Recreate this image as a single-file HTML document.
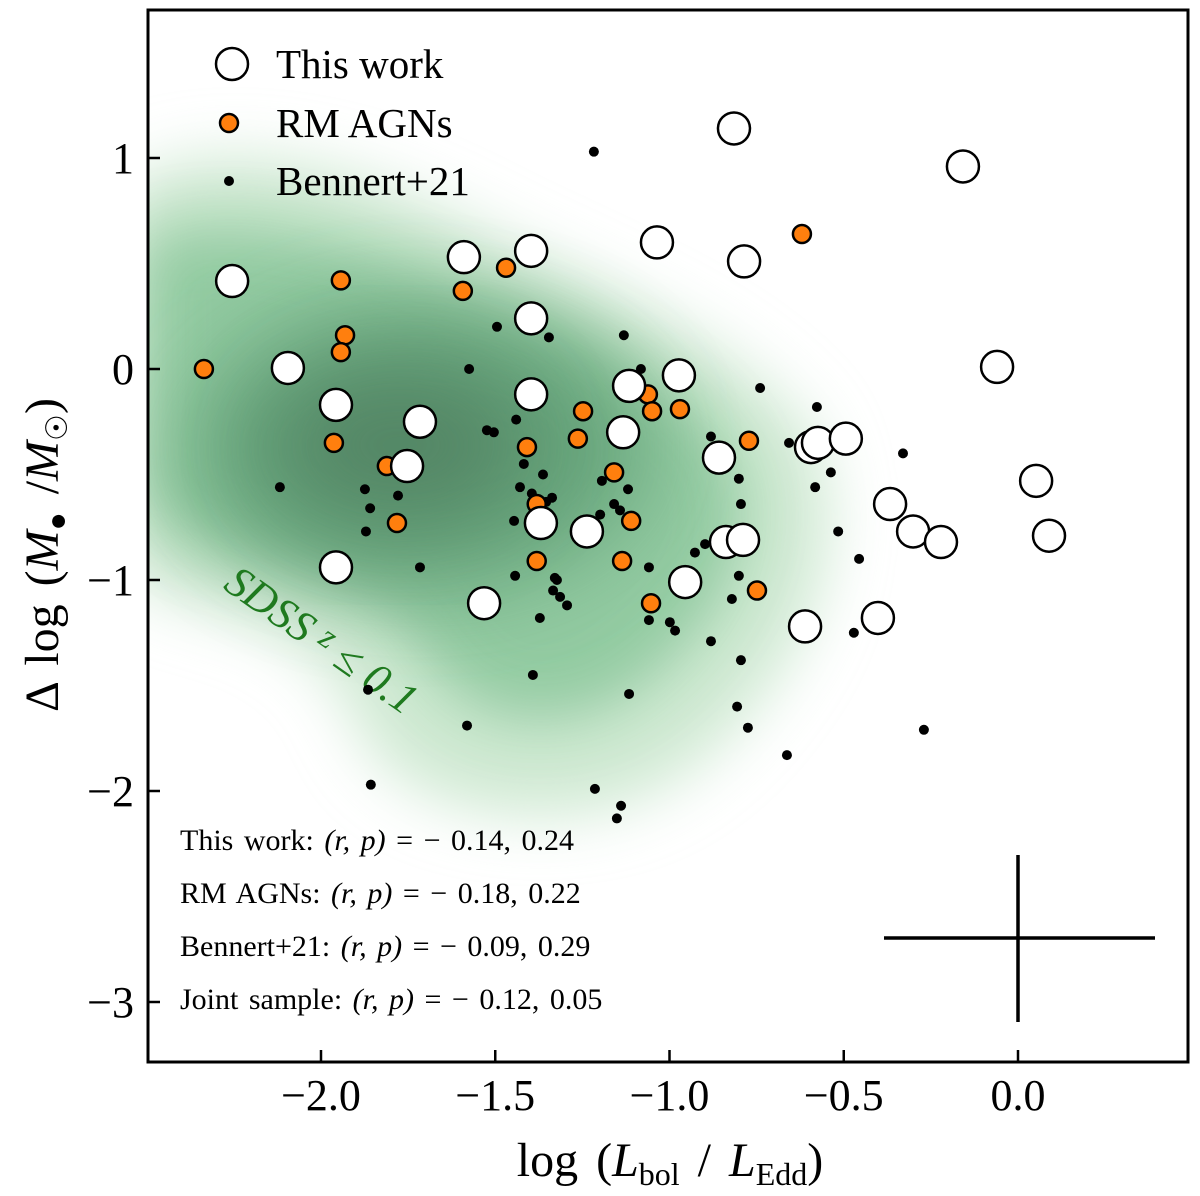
<!DOCTYPE html>
<html><head><meta charset="utf-8"><style>
body{margin:0;background:#fff}
svg{display:block;font-family:"Liberation Serif","DejaVu Serif",serif}
</style></head><body>
<svg id="chart" width="1200" height="1196" viewBox="0 0 1200 1196">
<defs>
<clipPath id="clip"><rect x="148" y="10" width="1040" height="1052"/></clipPath>
<filter id="b1" x="-50%" y="-50%" width="200%" height="200%"><feGaussianBlur stdDeviation="30"/></filter>
<filter id="b2" x="-50%" y="-50%" width="200%" height="200%"><feGaussianBlur stdDeviation="45"/></filter>
</defs>
<g clip-path="url(#clip)">
<path d="M120,190 C200,130 350,160 480,230 C600,290 720,330 800,420 C850,480 830,600 780,670 C720,760 650,810 560,815 C470,820 390,790 360,730 C340,680 320,650 250,620 C180,600 130,590 120,560 Z" fill="#cfe9d2" filter="url(#b1)"/>
<path d="M140,240 C240,200 380,250 500,300 C620,350 720,400 740,480 C760,560 700,650 620,700 C540,740 460,720 420,650 C390,600 330,580 250,560 C180,540 140,520 140,480 Z" fill="#8cc79c" filter="url(#b1)" opacity="0.9"/>
<ellipse cx="420" cy="450" rx="230" ry="140" fill="#5f9e74" filter="url(#b2)" opacity="0.85"/>
<ellipse cx="400" cy="445" rx="130" ry="80" fill="#4f7f60" filter="url(#b2)" opacity="0.8"/>
</g>
<text x="0" y="0" transform="translate(222,588) rotate(35)" fill="#1f7a1f" font-size="44" font-style="italic">SDSS <tspan font-size="34" dy="-10">z</tspan><tspan dy="10"> ≤ 0.1</tspan></text>
<g id="marks" clip-path="url(#clip)"></g>
<rect x="148" y="10" width="1040" height="1052" fill="none" stroke="#000" stroke-width="3"/>
<g id="axes"></g>
<g stroke="#000" stroke-width="3.5">
<line x1="884" y1="938" x2="1155" y2="938"/><line x1="1018" y1="855" x2="1018" y2="1022"/>
</g>
<g font-size="41">
<circle cx="232" cy="64" r="16" fill="#fff" stroke="#000" stroke-width="2.5"/><text x="276" y="78">This work</text>
<circle cx="229" cy="123" r="9" fill="#ff7f0e" stroke="#000" stroke-width="2.5"/><text x="276" y="137">RM AGNs</text>
<circle cx="229" cy="181" r="5" fill="#000"/><text x="276" y="195">Bennert+21</text>
</g>
<g font-size="30" word-spacing="3">
<text x="180" y="850">This work: <tspan font-style="italic">(r, p)</tspan> = − 0.14, 0.24</text>
<text x="180" y="903">RM AGNs: <tspan font-style="italic">(r, p)</tspan> = − 0.18, 0.22</text>
<text x="180" y="956">Bennert+21: <tspan font-style="italic">(r, p)</tspan> = − 0.09, 0.29</text>
<text x="180" y="1009">Joint sample: <tspan font-style="italic">(r, p)</tspan> = − 0.12, 0.05</text>
</g>
<text x="670" y="1176" text-anchor="middle" font-size="48" word-spacing="6">log (<tspan font-style="italic">L</tspan><tspan font-size="32" dy="9">bol</tspan><tspan dy="-9"> / </tspan><tspan font-style="italic">L</tspan><tspan font-size="32" dy="9">Edd</tspan><tspan dy="-9">)</tspan></text>
<text transform="translate(58,555) rotate(-90)" text-anchor="middle" font-size="48" word-spacing="6">Δ log (<tspan font-style="italic">M</tspan><tspan font-size="30" dy="9">●</tspan><tspan dy="-9"> /</tspan><tspan font-style="italic">M</tspan><tspan font-size="30" dy="9">☉</tspan><tspan dy="-9">)</tspan></text>
</svg>
<script>
const thisWorkX=[-2.255,-2.095,-1.957,-1.957,-1.716,-1.753,-1.590,-1.397,-1.397,-1.397,-1.369,-1.532,-1.237,-1.133,-1.116,-0.973,-1.036,-0.815,-0.786,-0.955,-0.858,-0.838,-0.789,-0.158,-0.060,-0.611,-0.594,-0.574,-0.494,-0.367,-0.402,-0.301,-0.221,0.052,0.089];
const thisWorkY=[0.417,0.005,-0.17,-0.94,-0.25,-0.46,0.53,0.56,0.24,-0.12,-0.73,-1.11,-0.77,-0.30,-0.08,-0.03,0.60,1.14,0.51,-1.01,-0.42,-0.82,-0.81,0.96,0.01,-1.22,-0.37,-0.35,-0.33,-0.64,-1.18,-0.77,-0.82,-0.53,-0.79];
const rmX=[-2.336,-1.943,-1.931,-1.943,-1.963,-1.811,-1.782,-1.593,-1.469,-1.409,-1.381,-1.381,-1.248,-1.263,-1.159,-1.110,-1.136,-1.062,-1.050,-0.970,-1.053,-0.772,-0.749,-0.620];
const rmY=[0.00,0.42,0.16,0.08,-0.35,-0.46,-0.73,0.37,0.48,-0.37,-0.64,-0.91,-0.20,-0.33,-0.49,-0.72,-0.91,-0.12,-0.20,-0.19,-1.11,-0.34,-1.05,0.64];
const benX=[-1.217,-2.118,-1.874,-1.859,-1.871,-1.779,-1.716,-1.865,-1.857,-1.575,-1.581,-1.495,-1.346,-1.524,-1.504,-1.418,-1.429,-1.395,-1.440,-1.363,-1.354,-1.337,-1.446,-1.443,-1.329,-1.334,-1.323,-1.314,-1.294,-1.372,-1.392,-1.131,-1.082,-1.096,-1.194,-1.199,-1.159,-1.119,-1.142,-1.059,-1.059,-0.999,-0.984,-1.116,-1.214,-1.139,-1.151,-0.881,-0.878,-0.801,-0.795,-0.927,-0.898,-0.801,-0.821,-0.881,-0.740,-0.657,-0.577,-0.582,-0.537,-0.516,-0.456,-0.471,-0.330,-0.795,-0.806,-0.775,-0.663,-0.270];
const benY=[1.03,-0.56,-0.57,-0.66,-0.77,-0.60,-0.94,-1.52,-1.97,0.00,-1.69,0.20,0.15,-0.29,-0.30,-0.45,-0.56,-0.59,-0.24,-0.50,-0.63,-0.61,-0.72,-0.98,-0.99,-1.05,-1.00,-1.08,-1.12,-1.18,-1.45,0.16,0.00,-0.04,-0.53,-0.69,-0.64,-0.57,-0.67,-0.94,-1.19,-1.20,-1.24,-1.54,-1.99,-2.07,-2.13,-0.32,-0.43,-0.52,-0.64,-0.87,-0.83,-0.98,-1.09,-1.29,-0.09,-0.35,-0.18,-0.56,-0.49,-0.77,-0.90,-1.25,-0.40,-1.38,-1.60,-1.70,-1.83,-1.71];
const xTicks=[-2.0,-1.5,-1.0,-0.5,0.0];
const xTickLabels=["−2.0","−1.5","−1.0","−0.5","0.0"];
const yTicks=[1,0,-1,-2,-3];
const yTickLabels=["1","0","−1","−2","−3"];
const NS="http://www.w3.org/2000/svg";
const sx=v=>1018+v*348.5;
const sy=v=>369-v*211;
const marks=document.getElementById('marks');
const axes=document.getElementById('axes');
function mk(tag,attrs,parent){const e=document.createElementNS(NS,tag);for(const k in attrs)e.setAttribute(k,attrs[k]);parent.appendChild(e);return e;}
benX.forEach((x,i)=>{const c=mk('circle',{cx:sx(x),cy:sy(benY[i]),r:5,fill:'#000'},marks);

});
rmX.forEach((x,i)=>{const c=mk('circle',{cx:sx(x),cy:sy(rmY[i]),r:9,fill:'#ff7f0e',stroke:'#000','stroke-width':2.5},marks);

});
thisWorkX.forEach((x,i)=>{const c=mk('circle',{cx:sx(x),cy:sy(thisWorkY[i]),r:16,fill:'#fff',stroke:'#000','stroke-width':2.5},marks);

});
xTicks.forEach((t,i)=>{const x=sx(t);
const l=mk('line',{x1:x,y1:1062,x2:x,y2:1050,stroke:'#000','stroke-width':2.5},axes);


const tx=mk('text',{x:x,y:1110,'text-anchor':'middle','font-size':44},axes);tx.textContent=xTickLabels[i];

});
yTicks.forEach((t,i)=>{const y=sy(t);
const l=mk('line',{x1:148,y1:y,x2:160,y2:y,stroke:'#000','stroke-width':2.5},axes);


const tx=mk('text',{x:134,y:y+15,'text-anchor':'end','font-size':44},axes);tx.textContent=yTickLabels[i];

});
</script>
</body></html>
